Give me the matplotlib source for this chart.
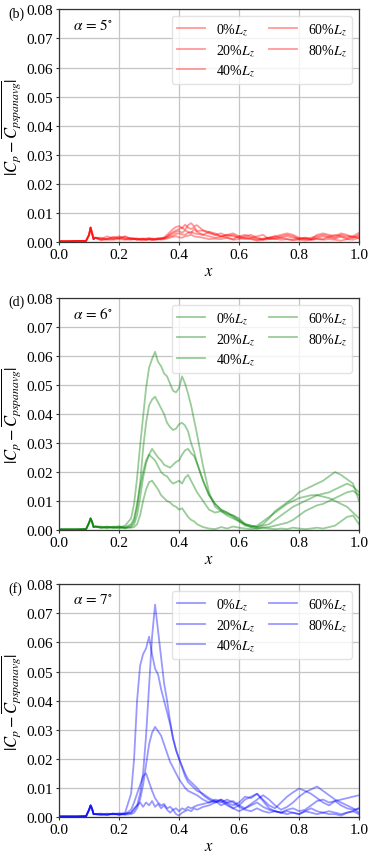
import numpy as np
import matplotlib
matplotlib.use("Agg")
import matplotlib.pyplot as plt

plt.rcParams['font.family'] = ['Liberation Serif', 'DejaVu Serif']
plt.rcParams['mathtext.fontset'] = 'stix'

# chordwise stations shared by every curve
x_le = [0.00, 0.03, 0.06, 0.09, 0.10, 0.105, 0.11, 0.115, 0.12]
x_rest = [0.14, 0.16, 0.18, 0.20, 0.22,
          0.24, 0.25, 0.26, 0.27, 0.28,
          0.29, 0.30, 0.31, 0.32, 0.33,
          0.34, 0.35, 0.36, 0.37, 0.38,
          0.39, 0.40, 0.41, 0.42, 0.43,
          0.44, 0.45, 0.46, 0.48, 0.50,
          0.52, 0.54, 0.56, 0.58, 0.60,
          0.62, 0.64, 0.66, 0.68, 0.70,
          0.72, 0.74, 0.76, 0.78, 0.80,
          0.82, 0.84, 0.86, 0.88, 0.90,
          0.92, 0.94, 0.96, 0.98, 1.00]

span_labels = ['0%$L_z$', '20%$L_z$', '40%$L_z$', '60%$L_z$', '80%$L_z$']

# values in units of 1e-3
# alpha = 5 deg
le_5 = [0.3, 0.3, 0.4, 0.4, 2.5, 5.0, 3.0, 1.0, 1.5]
a5_0 = [1.5, 1.0, 1.8, 1.2, 2.0, 1.0, 1.4, 0.8, 1.2, 1.0, 1.3, 0.9, 1.2, 1.0, 1.4,
        1.1, 1.6, 2.5, 3.5, 4.5, 5.2, 5.5, 4.8, 6.0, 5.0, 4.5, 5.2, 3.8, 4.0, 3.0,
        2.5, 3.0, 2.0, 2.5, 1.5, 2.0, 2.5, 1.5, 1.0, 1.5, 2.0, 2.5, 3.0, 2.5, 1.5,
        1.0, 1.5, 2.0, 2.5, 2.0, 1.5, 2.5, 2.0, 2.0, 3.2]
a5_20 = [1.0, 2.0, 1.2, 1.5, 1.0, 1.5, 1.0, 1.3, 0.8, 1.2, 1.0, 1.5, 1.0, 1.2, 0.9,
         1.5, 1.2, 2.0, 2.8, 3.5, 4.0, 4.5, 5.0, 4.2, 5.8, 6.5, 5.5, 5.8, 4.0, 3.5,
         3.0, 2.0, 2.5, 3.0, 2.0, 1.5, 1.5, 2.0, 2.5, 1.0, 1.5, 2.0, 2.5, 2.0, 1.0,
         1.5, 1.0, 2.5, 3.0, 2.5, 2.0, 3.0, 2.5, 1.5, 2.5]
a5_40 = [0.8, 1.2, 1.5, 2.0, 1.2, 0.8, 1.0, 1.2, 0.7, 1.0, 0.8, 1.0, 1.2, 0.8, 1.0,
         1.2, 1.5, 1.8, 2.5, 3.0, 3.5, 3.8, 3.2, 4.0, 3.5, 3.0, 4.5, 3.5, 2.5, 3.5,
         2.5, 2.0, 1.5, 1.0, 2.0, 2.5, 1.8, 1.2, 0.8, 1.5, 2.0, 1.5, 1.0, 0.8, 1.2,
         1.5, 1.0, 1.5, 2.0, 1.5, 1.2, 1.8, 1.0, 1.5, 2.0]
a5_60 = [1.2, 0.8, 1.0, 1.5, 1.8, 1.2, 1.0, 0.8, 1.1, 1.2, 0.8, 1.0, 0.7, 1.0, 1.2,
         1.0, 1.3, 1.5, 2.0, 2.2, 2.8, 3.0, 2.6, 2.5, 3.2, 3.5, 3.0, 2.8, 2.5, 2.0,
         1.5, 1.8, 2.5, 2.0, 1.5, 1.0, 1.2, 0.8, 1.2, 1.5, 1.0, 1.5, 2.0, 1.5, 1.2,
         1.0, 0.8, 1.2, 1.0, 1.8, 2.5, 2.0, 1.5, 2.0, 1.2]
a5_80 = [0.6, 1.0, 0.8, 1.0, 0.8, 1.0, 1.2, 0.9, 1.0, 0.6, 0.8, 1.0, 0.7, 0.8, 1.0,
         0.8, 1.0, 1.2, 1.5, 1.8, 2.0, 1.6, 1.5, 2.0, 2.2, 2.5, 2.0, 1.8, 1.5, 1.0,
         1.2, 1.0, 1.5, 0.8, 1.0, 1.5, 1.0, 0.5, 0.8, 1.0, 1.2, 0.8, 1.0, 0.6, 0.8,
         0.5, 0.8, 1.0, 0.8, 1.0, 0.8, 0.5, 1.0, 0.8, 1.5]

# alpha = 6 deg
le_6 = [0.2, 0.2, 0.2, 0.3, 2.5, 4.0, 2.8, 1.0, 1.2]
a6_0 = [1.0, 0.6, 1.2, 0.8, 1.5, 4.0, 9.0, 18.0, 29.0, 39.0, 49.0, 56.0, 59.0, 61.5, 58.0,
        56.5, 54.0, 53.0, 50.5, 48.0, 47.5, 49.0, 53.0, 50.5, 47.0, 43.0, 38.0, 33.0, 22.0, 13.0,
        8.0, 6.5, 5.0, 4.0, 3.0, 2.0, 1.5, 1.0, 2.0, 4.0, 6.5, 8.0, 9.5, 11.0, 13.0,
        14.0, 15.0, 16.0, 17.0, 18.5, 20.0, 19.0, 17.5, 16.0, 10.0]
a6_20 = [0.8, 1.2, 0.7, 1.0, 0.6, 1.5, 3.0, 8.0, 16.0, 28.0, 37.0, 43.0, 45.0, 46.0, 44.0,
         42.0, 40.0, 37.0, 35.5, 34.5, 35.0, 36.5, 37.0, 36.0, 34.0, 30.0, 27.0, 23.0, 17.0, 12.0,
         9.0, 7.0, 6.0, 5.0, 3.5, 2.0, 1.5, 1.0, 1.5, 2.0, 3.5, 5.0, 6.5, 8.0, 9.0,
         10.0, 11.0, 12.0, 12.5, 13.0, 14.0, 15.0, 16.0, 15.0, 13.0]
a6_40 = [1.2, 0.8, 1.0, 1.3, 0.8, 1.0, 2.0, 5.0, 11.0, 18.0, 23.0, 26.0, 28.0, 26.5, 25.0,
         24.0, 22.5, 22.0, 21.5, 22.5, 23.5, 24.0, 26.0, 27.5, 28.0, 26.5, 25.5, 23.0, 17.0, 12.0,
         9.0, 7.0, 6.0, 4.5, 3.0, 1.5, 1.0, 1.5, 3.0, 4.5, 6.0, 7.5, 9.0, 10.0, 11.0,
         11.5, 12.0, 12.0, 11.5, 11.0, 10.0, 9.0, 8.0, 6.0, 4.0]
a6_60 = [0.7, 1.0, 0.9, 0.6, 1.0, 2.0, 4.0, 9.0, 15.0, 20.0, 24.0, 26.0, 25.0, 24.0, 22.0,
         20.0, 19.0, 18.5, 17.0, 16.0, 16.5, 17.0, 16.0, 18.0, 19.0, 17.0, 15.0, 13.0, 10.0, 7.0,
         6.0, 6.5, 5.5, 5.0, 4.0, 2.0, 1.0, 0.5, 0.8, 1.0, 1.5, 2.0, 2.5, 3.5, 5.0,
         6.5, 7.5, 8.5, 9.0, 10.0, 11.0, 12.0, 13.0, 13.5, 12.0]
a6_80 = [0.9, 1.1, 0.8, 1.0, 0.7, 0.8, 1.0, 2.0, 5.0, 10.0, 14.0, 16.5, 17.0, 15.5, 14.0,
         12.0, 11.0, 10.0, 9.5, 8.5, 8.0, 7.0, 7.5, 6.0, 4.5, 3.5, 3.0, 2.0, 1.0, 0.5,
         0.3, 1.0, 0.5, 1.2, 0.8, 0.5, 0.3, 0.5, 0.8, 0.5, 0.3, 0.5, 0.3, 0.8, 0.5,
         0.3, 0.5, 0.8, 0.5, 1.0, 1.5, 3.0, 4.5, 5.0, 2.0]

# alpha = 7 deg
le_7 = [0.2, 0.2, 0.2, 0.3, 2.5, 4.0, 2.8, 1.0, 1.0]
a7_0 = [1.0, 0.7, 1.2, 0.8, 1.2, 1.5, 2.5, 4.0, 8.0, 15.0, 28.0, 45.0, 62.0, 73.0, 64.0,
        55.0, 46.0, 40.0, 33.0, 27.0, 23.0, 20.0, 17.5, 15.0, 13.0, 12.0, 11.0, 10.0, 7.5, 6.0,
        5.0, 6.0, 4.5, 3.0, 2.0, 3.0, 4.5, 6.0, 7.5, 6.0, 4.0, 2.5, 3.5, 5.0, 7.0,
        8.5, 9.5, 10.5, 9.0, 7.5, 6.0, 5.0, 4.0, 3.0, 1.5]
a7_20 = [0.8, 1.2, 0.9, 1.0, 1.5, 8.0, 20.0, 40.0, 52.0, 56.0, 58.0, 62.0, 56.0, 51.0, 49.0,
         44.0, 40.0, 36.0, 32.0, 27.0, 23.0, 20.0, 17.0, 14.0, 12.0, 11.0, 10.0, 9.0, 8.0, 6.5,
         5.5, 5.0, 6.0, 5.0, 3.5, 2.5, 2.0, 3.0, 2.0, 1.5, 2.0, 1.5, 1.0, 1.5, 1.0,
         2.0, 1.5, 1.0, 1.5, 2.0, 1.5, 1.0, 1.5, 2.0, 1.0]
a7_40 = [1.2, 0.8, 1.0, 1.3, 0.8, 1.0, 1.5, 3.0, 6.0, 11.0, 18.0, 25.0, 29.0, 31.0, 29.5,
         28.0, 25.0, 22.0, 19.0, 17.0, 15.0, 13.0, 11.5, 10.0, 9.0, 8.5, 8.0, 7.5, 6.0, 5.0,
         5.5, 4.0, 5.0, 5.5, 4.0, 3.0, 4.0, 5.0, 3.5, 2.5, 2.0, 1.5, 2.5, 3.0, 2.0,
         2.5, 4.0, 5.5, 6.0, 5.0, 5.5, 6.0, 6.5, 7.0, 7.5]
a7_60 = [0.7, 1.0, 1.1, 0.8, 1.0, 2.5, 5.0, 8.0, 11.0, 14.0, 15.0, 12.0, 9.0, 6.5, 5.0,
         4.0, 4.5, 3.0, 3.5, 2.5, 3.0, 2.0, 3.0, 2.5, 3.5, 3.0, 3.5, 4.0, 4.5, 5.0,
         6.0, 5.5, 4.0, 3.0, 4.0, 6.0, 7.0, 8.0, 6.0, 4.0, 3.0, 5.0, 7.0, 8.5, 9.8,
         9.0, 8.0, 6.5, 5.0, 4.0, 5.5, 4.0, 3.0, 2.5, 3.0]
a7_80 = [1.0, 0.8, 1.2, 0.9, 1.0, 1.5, 3.0, 4.0, 5.0, 3.5, 5.0, 4.0, 5.5, 3.5, 4.5,
         3.0, 4.0, 2.5, 1.5, 2.5, 1.0, 0.5, 1.5, 2.0, 2.5, 2.0, 3.0, 2.5, 3.5, 4.0,
         5.0, 6.0, 5.0, 4.0, 5.0, 7.0, 6.5, 8.0, 5.5, 3.0, 2.0, 1.5, 2.0, 1.5, 1.0,
         2.0, 3.0, 2.0, 1.5, 1.0, 1.0, 0.5, 1.5, 2.0, 3.0]

panels = [
    ('(b)', r'$\alpha\,=\,5^{\circ}$', 'red', le_5, [a5_0, a5_20, a5_40, a5_60, a5_80]),
    ('(d)', r'$\alpha\,=\,6^{\circ}$', 'green', le_6, [a6_0, a6_20, a6_40, a6_60, a6_80]),
    ('(f)', r'$\alpha\,=\,7^{\circ}$', 'blue', le_7, [a7_0, a7_20, a7_40, a7_60, a7_80]),
]

fig = plt.figure(figsize=(3.74, 8.62), dpi=100)
boxes = [[0.158, 0.718, 0.802, 0.270],
         [0.158, 0.384, 0.802, 0.269],
         [0.158, 0.051, 0.802, 0.270]]

x_all = np.array(x_le + x_rest)
for (tag, alpha_txt, col, le, curves), box in zip(panels, boxes):
    ax = fig.add_axes(box)
    for lab, vals in zip(span_labels, curves):
        y = np.array(le + vals) * 1e-3
        ax.plot(x_all, y, color=col, alpha=0.4, lw=1.3, label=lab)
    ax.set_xlim(0, 1)
    ax.set_ylim(0, 0.08)
    ax.set_xticks([0.0, 0.2, 0.4, 0.6, 0.8, 1.0])
    ax.set_yticks([0.0, 0.01, 0.02, 0.03, 0.04, 0.05, 0.06, 0.07, 0.08])
    ax.set_yticklabels(['0.00', '0.01', '0.02', '0.03', '0.04', '0.05', '0.06', '0.07', '0.08'])
    ax.set_xticklabels(['0.0', '0.2', '0.4', '0.6', '0.8', '1.0'])
    ax.tick_params(direction='out', length=2.5, width=0.8, pad=2, labelsize=11,
                   color='#333333')
    ax.grid(True, color='#c4c4c4', lw=0.9)
    ax.set_axisbelow(True)
    for s in ax.spines.values():
        s.set_color('#333333')
        s.set_linewidth(0.9)
    ax.set_xlabel(r'$x$', fontsize=12, labelpad=1)
    ax.set_ylabel(r'$|C_p - \overline{C_{pspanavg}}|$', fontsize=12, labelpad=2)
    ax.text(0.045, 0.935, alpha_txt, transform=ax.transAxes, fontsize=11,
            ha='left', va='center')
    ax.text(-0.168, 0.985, tag, transform=ax.transAxes, fontsize=10,
            ha='left', va='center')
    ax.legend(loc='upper right', ncol=2, fontsize=10, framealpha=0.8,
              edgecolor='#dddddd', handlelength=2.0, columnspacing=1.0,
              borderaxespad=0.5, labelspacing=0.35)

fig.savefig('out.png', dpi=100)
